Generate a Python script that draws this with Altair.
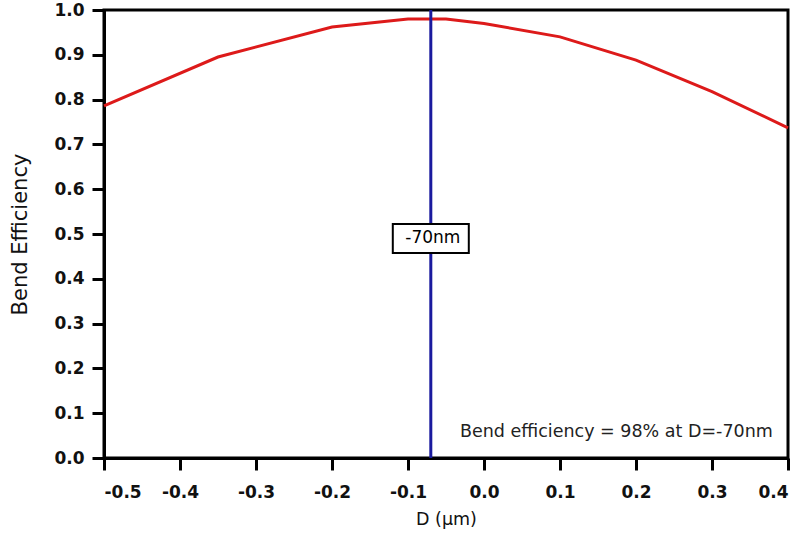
import altair as alt
import pandas as pd

# Data
d_um = [-0.5, -0.35, -0.2, -0.1, -0.05, 0.0, 0.1, 0.2, 0.3, 0.4]
efficiency = [0.786, 0.895, 0.962, 0.98, 0.98, 0.97, 0.94, 0.888, 0.818, 0.737]

x_ticks = [-0.5, -0.4, -0.3, -0.2, -0.1, 0.0, 0.1, 0.2, 0.3, 0.4]
y_ticks = [0.0, 0.1, 0.2, 0.3, 0.4, 0.5, 0.6, 0.7, 0.8, 0.9, 1.0]

marker_x = [-0.07]
marker_label = ["-70nm"]
marker_label_y = [0.49]

note_text = ["Bend efficiency = 98% at D=-70nm"]
note_x = [0.38]
note_y = [0.058]

FONT = "DejaVu Sans"
HYPHEN_EXPR = "replace(datum.label, '\u2212', '-')"

curve = pd.DataFrame({"D": d_um, "eff": efficiency})
marker = pd.DataFrame({"D": marker_x, "label": marker_label, "y": marker_label_y})
note = pd.DataFrame({"D": note_x, "y": note_y, "text": note_text})

xscale = alt.Scale(domain=[-0.5, 0.4], nice=False, zero=False)
yscale = alt.Scale(domain=[0.0, 1.0], nice=False, zero=False)

xaxis = alt.Axis(
    title="D (µm)", values=x_ticks, format=".1f", labelExpr=HYPHEN_EXPR,
    labelFont=FONT, labelFontWeight="bold", labelFontSize=17, labelColor="#111",
    labelPadding=14, tickSize=12, tickWidth=3, tickColor="black",
    domainWidth=3, domainColor="black", grid=False,
    titleFont=FONT, titleFontWeight="normal", titleFontSize=17.5, titleColor="#111",
    titlePadding=10,
)
yaxis = alt.Axis(
    title="Bend Efficiency", values=y_ticks, format=".1f", labelExpr=HYPHEN_EXPR,
    labelFont=FONT, labelFontWeight="bold", labelFontSize=17, labelColor="#111",
    labelPadding=8, tickSize=12, tickWidth=3, tickColor="black",
    domainWidth=3, domainColor="black", grid=False,
    titleFont=FONT, titleFontWeight="normal", titleFontSize=21, titleColor="#111",
    titlePadding=23,
)

line = alt.Chart(curve).mark_line(color="#dd1a1a", strokeWidth=3).encode(
    x=alt.X("D:Q", scale=xscale, axis=xaxis),
    y=alt.Y("eff:Q", scale=yscale, axis=yaxis),
)

rule = alt.Chart(marker).mark_rule(color="#1a1a9e", strokeWidth=3).encode(
    x=alt.X("D:Q", scale=xscale),
)

box = alt.Chart(marker).mark_rect(
    width=76, height=29, fill="white", stroke="black", strokeWidth=2
).encode(
    x=alt.X("D:Q", scale=xscale),
    y=alt.Y("y:Q", scale=yscale),
)

box_text = alt.Chart(marker).mark_text(
    font=FONT, fontSize=17, color="black", align="center", baseline="middle", dx=2
).encode(
    x=alt.X("D:Q", scale=xscale),
    y=alt.Y("y:Q", scale=yscale),
    text="label:N",
)

note_mark = alt.Chart(note).mark_text(
    font=FONT, fontSize=17.5, color="#222", align="right", baseline="middle"
).encode(
    x=alt.X("D:Q", scale=xscale),
    y=alt.Y("y:Q", scale=yscale),
    text="text:N",
)

chart = alt.layer(line, rule, box, box_text, note_mark).properties(
    width=684, height=448,
    padding={"left": 104, "top": 10, "right": 16, "bottom": 78},
    autosize=alt.AutoSizeParams(type="none"),
    background="white",
).configure_view(stroke="black", strokeWidth=3)

chart.save("out.html", embed_options={"renderer": "svg", "actions": False})
